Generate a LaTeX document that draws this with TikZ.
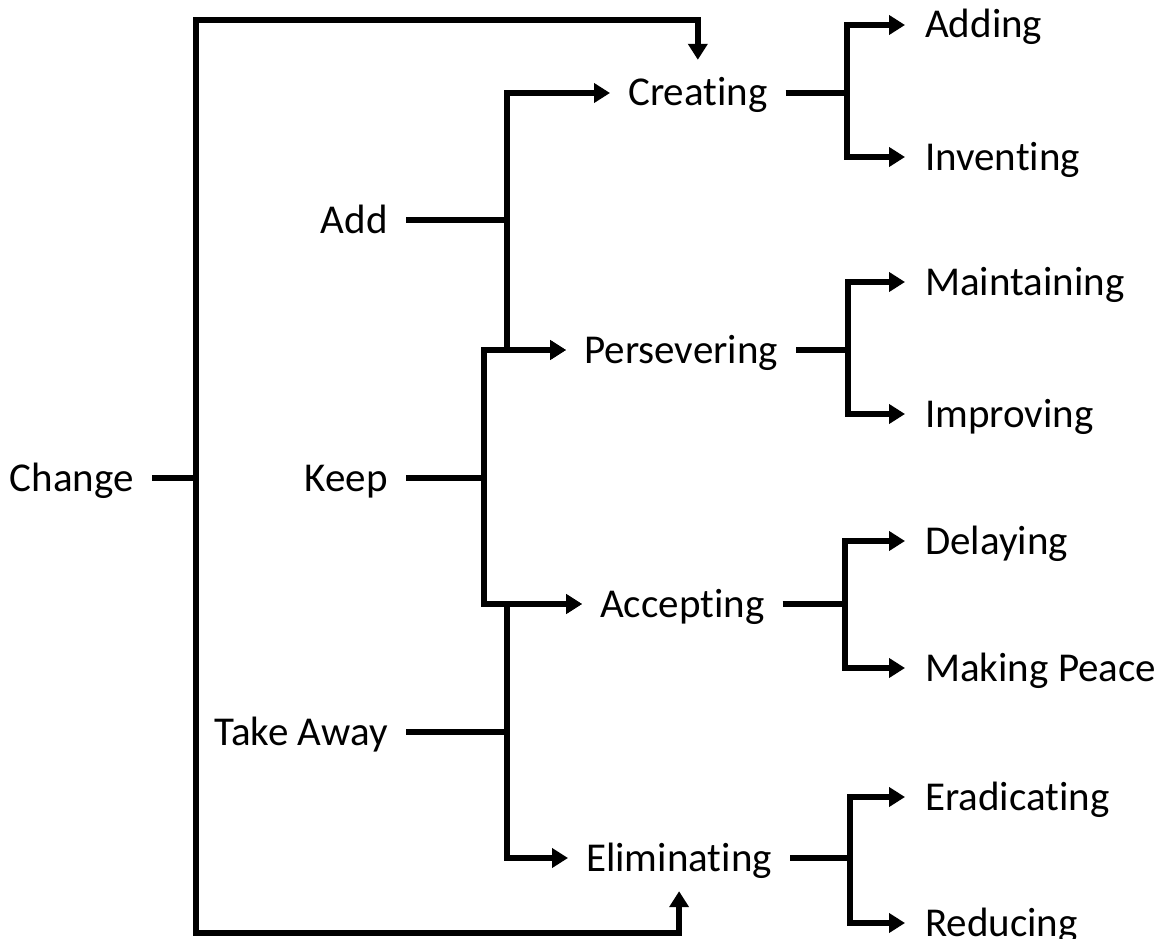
\documentclass[tikz,border=0pt]{standalone}
\usepackage{fontspec}
\setmainfont{Carlito}[Ligatures=NoCommon]
\usepackage{tikz}
\usetikzlibrary{arrows.meta, calc}

\begin{document}
\begin{tikzpicture}[x=1pt, y=-1pt,
      lbl/.style={font=\fontsize{41pt}{49pt}\selectfont, inner xsep=18pt, inner ysep=20pt, text height=26pt, text depth=0pt},
      stem/.style={lbl, anchor=east},
      mid/.style={lbl, anchor=west},
      leaf/.style={lbl, anchor=west, inner xsep=20pt},
      ln/.style={line width=5.5pt},
      arr/.style={ln, -{Triangle[length=16pt, width=19pt]}},
    ]
      \useasboundingbox (0,0) rectangle (1164,939);
      % left column
      \node[stem] (change)   at (152,478) {Change};
      \node[stem] (add)      at (406,220) {Add};
      \node[stem] (keep)     at (406,478) {Keep};
      \node[stem] (takeaway) at (406,732) {Take Away};
      % middle column
      \node[mid] (creating)    at (610,93)  {Creating};
      \node[mid] (persevering) at (566,350) {Persevering};
      \node[mid] (accepting)   at (582,604) {Accepting};
      \node[mid] (eliminating) at (568,858) {Eliminating};
      % right column
      \node[leaf] (adding)      at (905,25)  {Adding};
      \node[leaf] (inventing)   at (905,157) {Inventing};
      \node[leaf] (maintaining) at (905,282) {Maintaining};
      \node[leaf] (improving)   at (905,414) {Improving};
      \node[leaf] (delaying)    at (905,541) {Delaying};
      \node[leaf] (makingpeace) at (905,668) {Making Peace};
      \node[leaf] (eradicating) at (905,797) {Eradicating};
      \node[leaf] (reducing)    at (905,923) {Reducing};
      % junctions
      \coordinate (chj) at (196,478);
      \coordinate (adj) at (507,220);
      \coordinate (kpj) at (484,478);
      \coordinate (taj) at (507,732);
      \coordinate (crj) at (847,93);
      \coordinate (pej) at (848,350);
      \coordinate (acj) at (845,604);
      \coordinate (elj) at (850,858);
      \coordinate (top) at (creating.north |- 0,20);
      \coordinate (bot) at (eliminating.south |- 0,933);
      % outer frame from change
      \draw[ln] (change.east) -- (chj);
      \draw[arr] (chj) |- (top) -- (creating.north);
      \draw[arr] (chj) |- (bot) -- (eliminating.south);
      % add / keep / take away
      \draw[ln] (add.east) -- (adj);
      \draw[arr] (adj) |- (creating.west);
      \draw[arr] (adj) |- (persevering.west);
      \draw[ln] (keep.east) -- (kpj);
      \draw[arr] (kpj) |- (persevering.west);
      \draw[arr] (kpj) |- (accepting.west);
      \draw[ln] (takeaway.east) -- (taj);
      \draw[arr] (taj) |- (accepting.west);
      \draw[arr] (taj) |- (eliminating.west);
      % second level
      \draw[ln] (creating.east) -- (crj);
      \draw[arr] (crj) |- (adding.west);
      \draw[arr] (crj) |- (inventing.west);
      \draw[ln] (persevering.east) -- (pej);
      \draw[arr] (pej) |- (maintaining.west);
      \draw[arr] (pej) |- (improving.west);
      \draw[ln] (accepting.east) -- (acj);
      \draw[arr] (acj) |- (delaying.west);
      \draw[arr] (acj) |- (makingpeace.west);
      \draw[ln] (eliminating.east) -- (elj);
      \draw[arr] (elj) |- (eradicating.west);
      \draw[arr] (elj) |- (reducing.west);
    \end{tikzpicture}
\end{document}
